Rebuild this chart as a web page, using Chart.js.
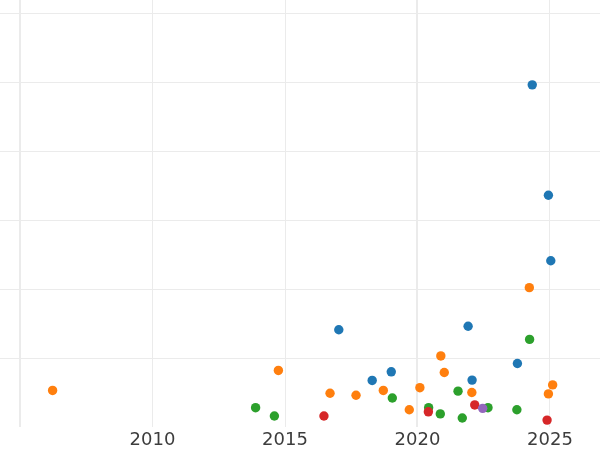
<!DOCTYPE html>
<html>
<head>
<meta charset="utf-8">
<script src="https://cdn.jsdelivr.net/npm/chart.js@4/dist/chart.umd.min.js"></script>
<style>
  html, body { margin: 0; padding: 0; background: #ffffff; }
  #wrap { width: 600px; height: 450px; }
</style>
</head>
<body>
<div id="wrap"><canvas id="c"></canvas></div>
<script>
// ---- data ----
const X_TICKS = [2005, 2010, 2015, 2020, 2025];
const X_TICK_LABELS = ["", "2010", "2015", "2020", "2025"];
const Y_TICKS = [0, 1, 2, 3, 4, 5, 6];

const seriesA_x = [2024.33, 2024.94, 2025.03, 2017.03, 2021.91, 2018.29, 2019.01, 2023.77, 2022.06];
const seriesA_y = [4.96, 3.36, 2.41, 1.41, 1.46, 0.675, 0.80, 0.92, 0.68];

const seriesB_x = [2006.23, 2014.75, 2016.70, 2017.68, 2018.71, 2019.69, 2020.09, 2020.88, 2021.01, 2022.05, 2024.22, 2025.10, 2024.94];
const seriesB_y = [0.53, 0.82, 0.49, 0.46, 0.53, 0.25, 0.57, 1.03, 0.79, 0.50, 2.02, 0.61, 0.48];

const seriesC_x = [2013.89, 2014.60, 2019.05, 2020.42, 2020.86, 2021.53, 2021.69, 2022.66, 2023.75, 2024.23];
const seriesC_y = [0.28, 0.16, 0.42, 0.28, 0.19, 0.52, 0.13, 0.28, 0.25, 1.27];

const seriesD_x = [2016.47, 2020.41, 2022.16, 2024.89];
const seriesD_y = [0.16, 0.22, 0.32, 0.10];

const seriesE_x = [2022.46];
const seriesE_y = [0.27];

const toPoints = (xs, ys) => xs.map((x, i) => ({ x: x, y: ys[i] }));

const series = [
  { label: "A", xs: seriesA_x, ys: seriesA_y, color: "#1f77b4", order: 5 },
  { label: "B", xs: seriesB_x, ys: seriesB_y, color: "#ff7f0e", order: 4 },
  { label: "C", xs: seriesC_x, ys: seriesC_y, color: "#2ca02c", order: 3 },
  { label: "D", xs: seriesD_x, ys: seriesD_y, color: "#d62728", order: 2 },
  { label: "E", xs: seriesE_x, ys: seriesE_y, color: "#9467bd", order: 1 }
];

const whiteBg = {
  id: "whiteBg",
  beforeDraw(chart) {
    const ctx = chart.ctx;
    ctx.save();
    ctx.fillStyle = "#ffffff";
    ctx.fillRect(0, 0, chart.width, chart.height);
    ctx.restore();
  }
};

new Chart(document.getElementById("c"), {
  type: "scatter",
  data: {
    datasets: series.map(s => ({
      label: s.label,
      data: toPoints(s.xs, s.ys),
      backgroundColor: s.color,
      borderColor: s.color,
      borderWidth: 0,
      pointRadius: 4.7,
      pointHoverRadius: 4.7,
      order: s.order
    }))
  },
  options: {
    responsive: true,
    maintainAspectRatio: false,
    animation: false,
    layout: { padding: 0, autoPadding: false },
    plugins: { legend: { display: false }, tooltip: { enabled: false }, title: { display: false } },
    scales: {
      x: {
        type: "linear",
        min: 2004.245,
        max: 2026.887,
        afterBuildTicks: (scale) => { scale.ticks = X_TICKS.map(v => ({ value: v })); },
        afterFit: (scale) => { scale.height = 23; },
        ticks: {
          autoSkip: false,
          maxRotation: 0,
          minRotation: 0,
          padding: 4,
          color: "#3d3d3d",
          font: { family: "DejaVu Sans", size: 18, lineHeight: 1.0 },
          callback: (value) => { const i = X_TICKS.indexOf(value); return i >= 0 ? X_TICK_LABELS[i] : ""; }
        },
        grid: {
          drawTicks: false,
          color: "#ebebeb",
          lineWidth: (ctx) => (ctx.tick && (ctx.tick.value === 2005 || ctx.tick.value === 2020)) ? 2 : 1
        },
        border: { display: false }
      },
      y: {
        type: "linear",
        min: 0,
        max: 6.19,
        afterBuildTicks: (scale) => { scale.ticks = Y_TICKS.map(v => ({ value: v })); },
        ticks: { display: false },
        grid: {
          drawTicks: false,
          color: (ctx) => (ctx.tick && ctx.tick.value === 0) ? "rgba(0,0,0,0)" : "#ebebeb",
          lineWidth: 1
        },
        border: { display: false }
      }
    }
  },
  plugins: [whiteBg]
});
</script>
</body>
</html>
